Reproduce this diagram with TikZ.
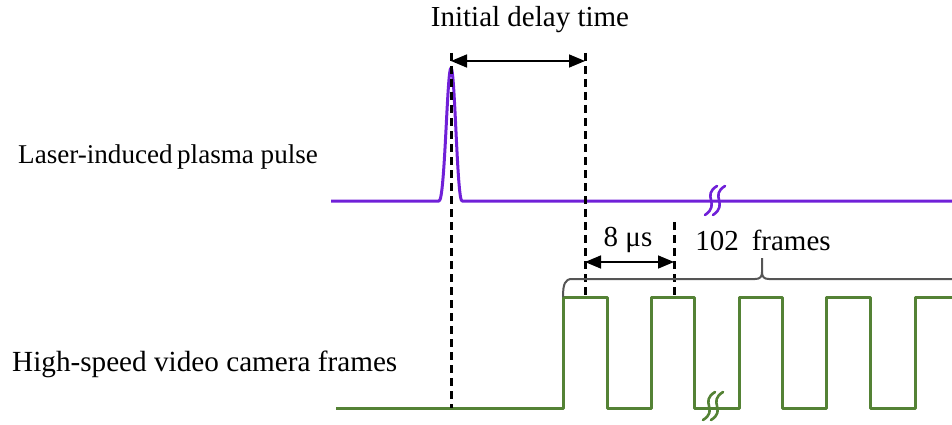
\documentclass[tikz,border=0pt]{standalone}
\usepackage{fontspec}
\setmainfont{Liberation Serif}
\usetikzlibrary{arrows.meta}
\definecolor{pulsecol}{RGB}{112,32,216}
\definecolor{framecol}{RGB}{84,130,53}
\definecolor{bracecol}{RGB}{85,85,85}
\begin{document}
\begin{tikzpicture}[x=1pt,y=-1pt,
  pulseline/.style={pulsecol,line width=3pt,line join=round},
  frameline/.style={framecol,line width=3pt,line join=round},
  guide/.style={black,line width=3pt,dash pattern=on 8pt off 5pt},
  dimarrow/.style={black,line width=1.6pt,{Triangle[length=16pt,width=13pt]}-{Triangle[length=16pt,width=13pt]}},
  lbl/.style={font=\fontsize{29}{33}\selectfont,inner sep=0pt},
  bracepath/.style={bracecol,line width=2pt},
  breakmark/.style={line width=2.6pt,line cap=round}]
\useasboundingbox (0,0) rectangle (952,425);

% coordinates
\coordinate (pA) at (331,201);
\coordinate (pE) at (952,201);
\coordinate (d1t) at (451,53);
\coordinate (d1b) at (451,408);
\coordinate (d2t) at (585,53);
\coordinate (d2b) at (585,298);
\coordinate (d3t) at (674,222);
\coordinate (d3b) at (674,298);
\coordinate (a1l) at (451,61);
\coordinate (a1r) at (585,61);
\coordinate (a2l) at (585,262);
\coordinate (a2r) at (674,262);

% labels
\node[lbl] (tdelay) at (530,20) {Initial delay time};
\node[lbl,anchor=west,font=\fontsize{27.1}{32}\selectfont] (tlaser) at (18,157) {Laser-induced\,plasma pulse};
\node[lbl,anchor=west,font=\fontsize{29.2}{33}\selectfont] (tcam) at (12,364) {High-speed video camera frames};
\node[lbl] (t8) at (628,240) {8 μs};
\node[lbl] (tframes) at (763,240) {102\hspace{0.45em}frames};

% pulse signal
\draw[pulseline] (pA) -- (439,201) .. controls (445,201) and (447,68) .. (451,68)
  .. controls (455,68) and (457,201) .. (462,201) -- (pE);
% break marks on pulse line
\foreach \bx in {711,719}{
  \draw[breakmark,pulsecol] (\bx+6,186) .. controls (\bx-10,196) and (\bx+10,204) .. (\bx-6,215);
}

% frame signal
\draw[frameline] (336,408) -- (563,408) -- (563,297) -- (607,297) -- (607,408)
  -- (651,408) -- (651,297) -- (694,297) -- (694,408)
  -- (739,408) -- (739,297) -- (782,297) -- (782,408)
  -- (826,408) -- (826,297) -- (870,297) -- (870,408)
  -- (915,408) -- (915,297) -- (952,297);
% break marks on frame line
\foreach \bx in {709,717}{
  \draw[breakmark,framecol] (\bx+6,392) .. controls (\bx-10,402) and (\bx+10,410) .. (\bx-6,420);
}

% guides
\draw[guide] (d1t) -- (d1b);
\draw[guide] (d2t) -- (d2b);
\draw[guide] (d3t) -- (d3b);

% dimension arrows
\draw[dimarrow] (a1l) -- (a1r);
\draw[dimarrow] (a2l) -- (a2r);

% brace
\draw[bracepath] (563,297) .. controls (563,284) and (565,279) .. (572,279) -- (755,279)
  .. controls (760,279) and (762,277) .. (762,272) -- (762,258);
\draw[bracepath] (762,272) .. controls (762,277) and (764,279) .. (769,279) -- (952,279);
\end{tikzpicture}
\end{document}
